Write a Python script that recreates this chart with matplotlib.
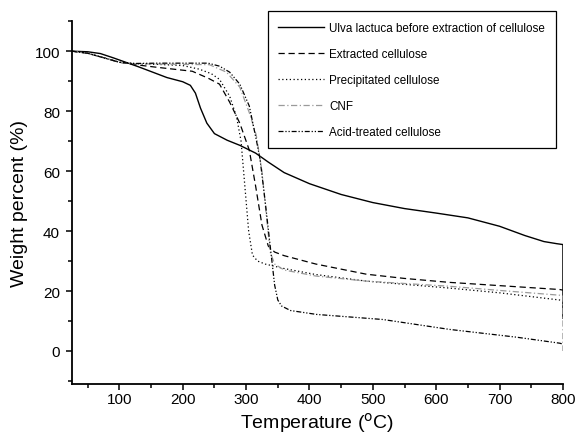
import numpy as np
import matplotlib
matplotlib.use("Agg")
import matplotlib.pyplot as plt
from matplotlib.ticker import MultipleLocator

plt.rcParams['font.family'] = ['Liberation Sans', 'DejaVu Sans']

# datos (temperatura en C, peso en %)
t_ulva = [25, 50, 70, 90, 110, 130, 150, 175, 200, 212, 220, 228, 238, 250, 270, 290,
          315, 335, 360, 400, 450, 500, 550, 600, 650, 700, 740, 770, 790, 800, 800]
w_ulva = [100, 99.8, 99.2, 97.8, 96.3, 94.8, 93.2, 91.2, 89.8, 88.6, 86, 81, 76, 72.5, 70.3, 68.6,
          66, 63, 59.5, 55.8, 52.2, 49.5, 47.5, 46, 44.4, 41.6, 38.5, 36.5, 35.8, 35.5, 11]

t_extr = [25, 50, 75, 100, 125, 160, 215, 240, 258, 274, 290, 305, 315, 325, 335, 345,
          360, 410, 490, 550, 620, 700, 795, 800]
w_extr = [100, 99.3, 97.8, 96.3, 95.5, 94.6, 93.3, 91, 89, 83, 76, 67, 55, 42, 35, 33,
          31.8, 29, 25.6, 24.2, 22.9, 21.8, 20.5, 20.3]

t_prec = [25, 50, 75, 100, 125, 160, 200, 226, 245, 258, 274, 285, 292, 298, 304, 310,
          318, 330, 360, 410, 490, 620, 700, 795, 800]
w_prec = [100, 99.3, 97.8, 96.3, 95.8, 95.6, 95.2, 94, 92.5, 90.6, 85, 78, 70, 55, 40, 32,
          30, 29, 27.5, 25.5, 23.3, 21, 19.4, 17, 16.8]

t_cnf = [25, 50, 75, 100, 125, 160, 200, 242, 269, 290, 305, 316, 325, 332, 338, 345,
         360, 410, 490, 620, 700, 795, 800, 800]
w_cnf = [100, 99.3, 97.8, 96.3, 95.8, 95.7, 95.6, 95.5, 93, 88, 79.5, 72, 60, 45, 33, 29,
         27, 25, 23.3, 21.6, 20.2, 18.6, 18.4, 0]

t_acid = [25, 50, 75, 100, 125, 160, 200, 240, 258, 274, 290, 305, 316, 322, 330, 338,
          345, 350, 356, 370, 411, 516, 621, 727, 795, 800]
w_acid = [100, 99.3, 97.8, 96.3, 95.9, 96, 96, 96, 95, 93, 89, 81.7, 70.5, 64, 50, 35,
          22, 17, 15, 13.5, 12.2, 10.5, 7.2, 4.6, 2.6, 2.3]

fig = plt.figure(figsize=(5.75, 4.35), dpi=100)
ax = fig.add_axes([0.125, 0.115, 0.854, 0.834])

ax.plot(t_ulva, w_ulva, color='black', lw=1.0, ls='-',
        label='Ulva lactuca before extraction of cellulose')
ax.plot(t_extr, w_extr, color='black', lw=0.9, ls=(0, (5, 3)),
        label='Extracted cellulose')
ax.plot(t_prec, w_prec, color='black', lw=0.9, ls=(0, (1, 2)),
        label='Precipitated cellulose')
ax.plot(t_cnf, w_cnf, color='#9a9a9a', lw=0.9, ls=(0, (5, 2, 1, 2)),
        label='CNF')
ax.plot(t_acid, w_acid, color='black', lw=0.9, ls=(0, (4, 1.5, 1, 1.5, 1, 1.5)),
        label='Acid-treated cellulose')

ax.set_xlim(25, 800)
ax.set_ylim(-11, 110)
ax.set_xticks([100, 200, 300, 400, 500, 600, 700, 800])
ax.set_yticks([0, 20, 40, 60, 80, 100])
ax.xaxis.set_minor_locator(MultipleLocator(50))
ax.yaxis.set_minor_locator(MultipleLocator(10))
ax.tick_params(which='major', direction='out', length=4.5, width=1.1, labelsize=11)
ax.tick_params(which='minor', direction='out', length=3, width=1.1)
ax.tick_params(axis='x', which='major', pad=1.5)
ax.tick_params(axis='y', which='major', pad=4)

ax.spines['top'].set_visible(False)
ax.spines['right'].set_visible(False)
ax.spines['left'].set_linewidth(1.3)
ax.spines['bottom'].set_linewidth(1.3)

ax.set_xlabel(r'Temperature ($^{\rm o}$C)', fontsize=14)
ax.xaxis.set_label_coords(0.5, -0.072)
ax.set_ylabel('Weight percent (%)', fontsize=14, labelpad=5)

leg = fig.legend(loc='upper left', bbox_to_anchor=(0.466, 0.972),
                 bbox_transform=fig.transFigure, fontsize=8.4, frameon=True,
                 fancybox=False, edgecolor='black', framealpha=1,
                 handlelength=3.9, handletextpad=0.45, labelspacing=1.2,
                 borderpad=0.9, borderaxespad=0)
leg.get_frame().set_linewidth(0.9)

fig.savefig('out.png', dpi=100)
